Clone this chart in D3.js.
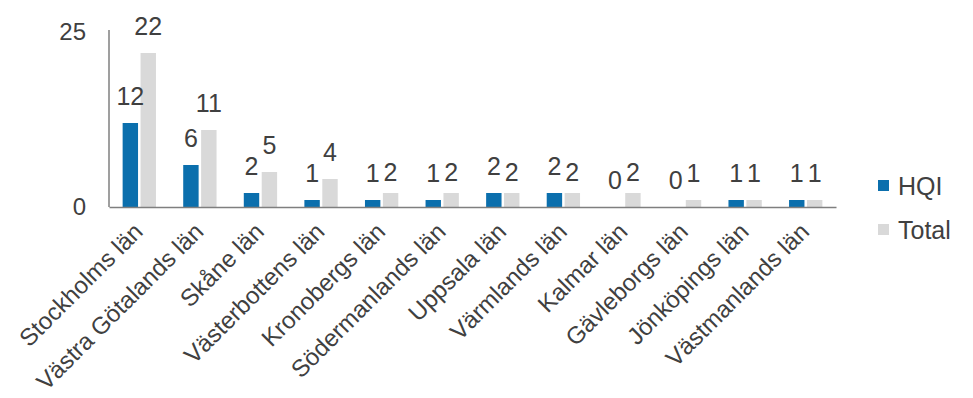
<!DOCTYPE html>
<meta charset="utf-8">
<style>
body { margin: 0; background: #fff; }
text { font-family: "Liberation Sans", Arial, sans-serif; fill: #404040; }
</style>
<body>
<div id="chart"></div>
<script src="https://cdn.jsdelivr.net/npm/d3@7"></script>
<script>
// values
var lan = ["Stockholms län", "Västra Götalands län", "Skåne län", "Västerbottens län",
  "Kronobergs län", "Södermanlands län", "Uppsala län", "Värmlands län",
  "Kalmar län", "Gävleborgs län", "Jönköpings län", "Västmanlands län"];
var hqi = [12, 6, 2, 1, 1, 1, 2, 2, 0, 0, 1, 1];
var total = [22, 11, 5, 4, 2, 2, 2, 2, 2, 1, 1, 1];
var series = ["HQI", "Total"];
var yTicks = [0, 25];

var width = 973, height = 398;
var colors = {HQI: "#0b6fad", Total: "#d9d9d9"};
var axisY = 207;

var rows = lan.map(function(d, i) { return {lan: d, HQI: hqi[i], Total: total[i]}; });

var svg = d3.select("#chart").append("svg")
    .attr("width", width)
    .attr("height", height);

var x0 = d3.scaleBand().domain(lan).range([109, 836]).paddingInner(0.45).paddingOuter(0.225);
var x1 = d3.scaleBand().domain(series).range([0, x0.bandwidth()]).paddingInner(0.14);
var y = d3.scaleLinear().domain([0, 25]).range([axisY, 32]);

// bars
var groups = svg.selectAll(".grp")
    .data(rows)
    .enter().append("g")
    .attr("class", "grp")
    .attr("transform", d => `translate(${x0(d.lan)},0)`);

groups.selectAll("rect")
    .data(d => series.map(k => ({key: k, value: d[k]})))
    .enter().append("rect")
    .attr("x", d => x1(d.key))
    .attr("y", d => y(d.value))
    .attr("width", x1.bandwidth())
    .attr("height", d => axisY - y(d.value))
    .attr("fill", d => colors[d.key]);

// value labels
groups.selectAll(".val")
    .data(d => series.map(k => ({key: k, value: d[k]})))
    .enter().append("text")
    .attr("class", "val")
    .attr("x", d => x1(d.key) + x1.bandwidth() / 2)
    .attr("y", d => y(d.value) - (d.key == "Total" && d.value == 2 ? 12 : 18))
    .attr("text-anchor", "middle")
    .style("font-size", "25px")
    .text(d => d.value);

// x axis
var xAxis = svg.append("g")
    .attr("transform", `translate(0,${axisY})`)
    .call(d3.axisBottom(x0).tickSize(0).tickSizeOuter(0));
xAxis.select(".domain").attr("stroke", "#7f7f7f").attr("stroke-width", 1.5);
xAxis.selectAll("text")
    .style("font-size", "24px")
    .attr("text-anchor", "end")
    .attr("dy", 0)
    .attr("y", 0)
    .attr("transform", "translate(5,26) rotate(-45)");

// y axis
var yAxis = svg.append("g")
    .attr("transform", "translate(109,0)")
    .call(d3.axisLeft(y).tickValues(yTicks).tickSize(0).tickSizeOuter(0).tickPadding(23));
yAxis.select(".domain").attr("stroke", "#7f7f7f").attr("stroke-width", 1.5)
    .attr("d", `M0,30V${axisY}`);
yAxis.selectAll("text").style("font-size", "24px");

// legend
var legend = svg.selectAll(".legend")
    .data(series)
    .enter().append("g")
    .attr("class", "legend")
    .attr("transform", (d, i) => `translate(878,${186 + i * 44})`);

legend.append("rect")
    .attr("y", -6)
    .attr("width", 11)
    .attr("height", 11)
    .attr("fill", d => colors[d]);

legend.append("text")
    .attr("x", 20)
    .attr("dy", "0.36em")
    .style("font-size", "25px")
    .text(d => d);
</script>
</body>
